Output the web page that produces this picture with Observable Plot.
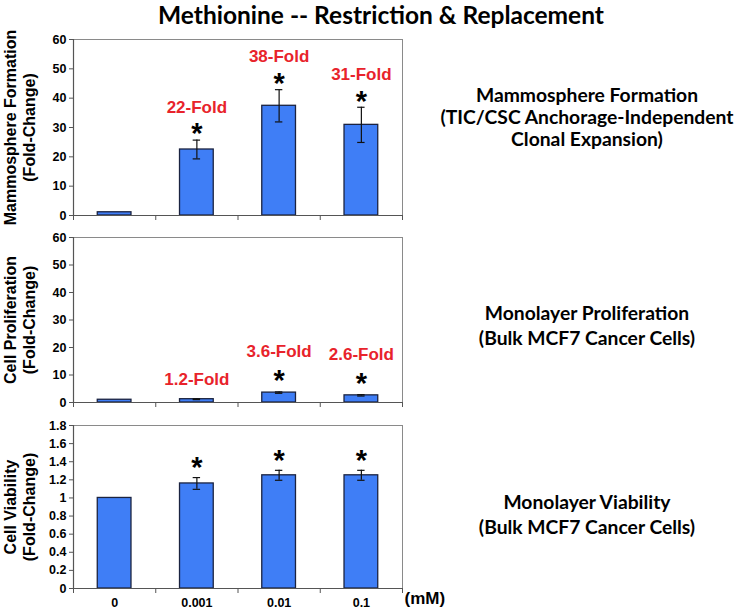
<!DOCTYPE html>
<html>
<head>
<meta charset="utf-8">
<script src="https://cdn.jsdelivr.net/npm/d3@7"></script>
<script src="https://cdn.jsdelivr.net/npm/@observablehq/plot@0.6"></script>
<style>
  body { margin: 0; background: #fff; }
  #wrap { position: relative; width: 737px; height: 612px; overflow: hidden; background: #fff; }
  #wrap svg { position: absolute; left: 0; overflow: visible; }
  .title { position: absolute; left: 25px; width: 712px; top: 0px; text-align: center;
           font-family: Lato, "Open Sans", sans-serif; font-weight: bold; font-size: 24.5px; line-height: 29px; color: #000; }
  .note { position: absolute; left: 437px; width: 300px; text-align: center;
          font-family: Lato, "Open Sans", sans-serif; font-weight: bold; font-size: 19.3px; color: #000; }
</style>
</head>
<body>
<div id="wrap">
  <div class="title">Methionine -- Restriction &amp; Replacement</div>
  <div class="note" style="top:84px; line-height:22px;">Mammosphere Formation<br>(TIC/CSC Anchorage-Independent<br>Clonal Expansion)</div>
  <div class="note" style="top:300px; line-height:25px;">Monolayer Proliferation<br>(Bulk MCF7 Cancer Cells)</div>
  <div class="note" style="top:489px; line-height:25px;">Monolayer Viability<br>(Bulk MCF7 Cancer Cells)</div>
</div>
<script>
// ---- data ----
const concentrations = ["0", "0.001", "0.01", "0.1"];
const unitLabel = "(mM)";

const mammoValues = [1.1, 22.5, 37.4, 30.9];
const mammoErrors = [0, 3.2, 5.5, 6.0];
const mammoFold = ["", "22-Fold", "38-Fold", "31-Fold"];
const mammoStar = [false, true, true, true];
const mammoTicks = [0, 10, 20, 30, 40, 50, 60];

const prolifValues = [1.0, 1.2, 3.6, 2.6];
const prolifErrors = [0, 0.15, 0.25, 0.25];
const prolifFold = ["", "1.2-Fold", "3.6-Fold", "2.6-Fold"];
const prolifStar = [false, false, true, true];
const prolifTicks = [0, 10, 20, 30, 40, 50, 60];

const viabValues = [1.0, 1.16, 1.25, 1.25];
const viabErrors = [0, 0.065, 0.055, 0.055];
const viabStar = [false, true, true, true];
const viabTicks = [0, 0.2, 0.4, 0.6, 0.8, 1, 1.2, 1.4, 1.6, 1.8];

const panelTitles = [
  "Mammosphere Formation\n(Fold-Change)",
  "Cell Proliferation\n(Fold-Change)",
  "Cell Viability\n(Fold-Change)"
];

// ---- styles ----
const BAR_FILL = "#3f7ef6";
const BAR_STROKE = "#1b2340";
const RED = "#e8232b";
const HALF = 0.205;   // half bar width in category units
const CAP = 0.045;    // half error-cap width

function rows(values, errors, fold, star) {
  return values.map((v, i) => ({i, v, e: errors[i], lo: v - errors[i], hi: v + errors[i],
                                fold: fold ? fold[i] : "", star: star[i]}));
}

function panel({data, yMax, ticks, title, top, height, mTop, mBottom, starDy, foldDyStar, foldDyNoStar, showX}) {
  const withErr = data.filter(d => d.e > 0);
  const marks = [
    Plot.frame({stroke: "#8a8a8a", strokeWidth: 1}),
    Plot.rect(data, {x1: d => d.i - HALF, x2: d => d.i + HALF, y1: 0, y2: "v",
                     fill: BAR_FILL, stroke: BAR_STROKE, strokeWidth: 1.3}),
    Plot.ruleX(withErr, {x: "i", y1: "lo", y2: "hi", stroke: "#111", strokeWidth: 1.2}),
    Plot.ruleY(withErr, {x1: d => d.i - CAP, x2: d => d.i + CAP, y: "lo", stroke: "#111", strokeWidth: 1.2}),
    Plot.ruleY(withErr, {x1: d => d.i - CAP, x2: d => d.i + CAP, y: "hi", stroke: "#111", strokeWidth: 1.2}),
    Plot.ruleX([-0.5], {stroke: "#555", strokeWidth: 1.2}),
    Plot.ruleY([0], {stroke: "#555", strokeWidth: 1.2}),
    Plot.axisY({ticks, tickSize: 4, tickPadding: 3, label: null, stroke: "#555",
                fontSize: 12.5, fontWeight: "bold", tickFormat: d => String(d)}),
    Plot.axisX({ticks: [-0.5, 0.5, 1.5, 2.5, 3.5], tickSize: 5, tickFormat: () => "", label: null, stroke: "#555"}),
    Plot.text(data.filter(d => d.star), {x: "i", y: "hi", text: () => "*", dy: starDy,
              fontSize: 29, fontWeight: "bold", fill: "#000"}),
    Plot.text(data.filter(d => d.fold && d.star), {x: "i", y: "hi", text: "fold", dy: foldDyStar,
              fontSize: 17, fontWeight: "bold", fill: RED}),
    Plot.text(data.filter(d => d.fold && !d.star), {x: "i", y: "hi", text: "fold", dy: foldDyNoStar,
              fontSize: 17, fontWeight: "bold", fill: RED}),
    Plot.text([title], {frameAnchor: "left", textAnchor: "middle", lineAnchor: "middle", dx: -54, rotate: -90,
              fontSize: 16, fontWeight: "bold", lineHeight: 1.15, fill: "#000"})
  ];
  if (showX) {
    marks.push(Plot.axisX({ticks: [0, 1, 2, 3], tickFormat: i => concentrations[i], tickSize: 0,
                           tickPadding: 10, label: null, fontSize: 12.5, fontWeight: "bold"}));
    marks.push(Plot.text([unitLabel], {frameAnchor: "bottom-right", dx: 2, dy: 15, textAnchor: "start",
                           fontSize: 17, fontWeight: "bold", fill: "#000"}));
  }
  const svg = Plot.plot({
    width: 737, height,
    marginLeft: 73, marginRight: 335, marginTop: mTop, marginBottom: mBottom,
    x: {domain: [-0.5, 3.5]},
    y: {domain: [0, yMax]},
    style: {fontFamily: "Arial, 'Liberation Sans', sans-serif", color: "#000", background: "transparent", overflow: "visible"},
    marks
  });
  svg.style.top = top + "px";
  document.getElementById("wrap").appendChild(svg);
}

panel({data: rows(mammoValues, mammoErrors, mammoFold, mammoStar), yMax: 60, ticks: mammoTicks,
       title: panelTitles[0], top: 30, height: 190, mTop: 9, mBottom: 5,
       starDy: -6, foldDyStar: -33, foldDyNoStar: -19, showX: false});
panel({data: rows(prolifValues, prolifErrors, prolifFold, prolifStar), yMax: 60, ticks: prolifTicks,
       title: panelTitles[1], top: 222, height: 188, mTop: 15, mBottom: 8,
       starDy: -11, foldDyStar: -40, foldDyNoStar: -19, showX: false});
panel({data: rows(viabValues, viabErrors, null, viabStar), yMax: 1.8, ticks: viabTicks,
       title: panelTitles[2], top: 415, height: 197, mTop: 10, mBottom: 24,
       starDy: -10, foldDyStar: -33, foldDyNoStar: -19, showX: true});
</script>
</body>
</html>
